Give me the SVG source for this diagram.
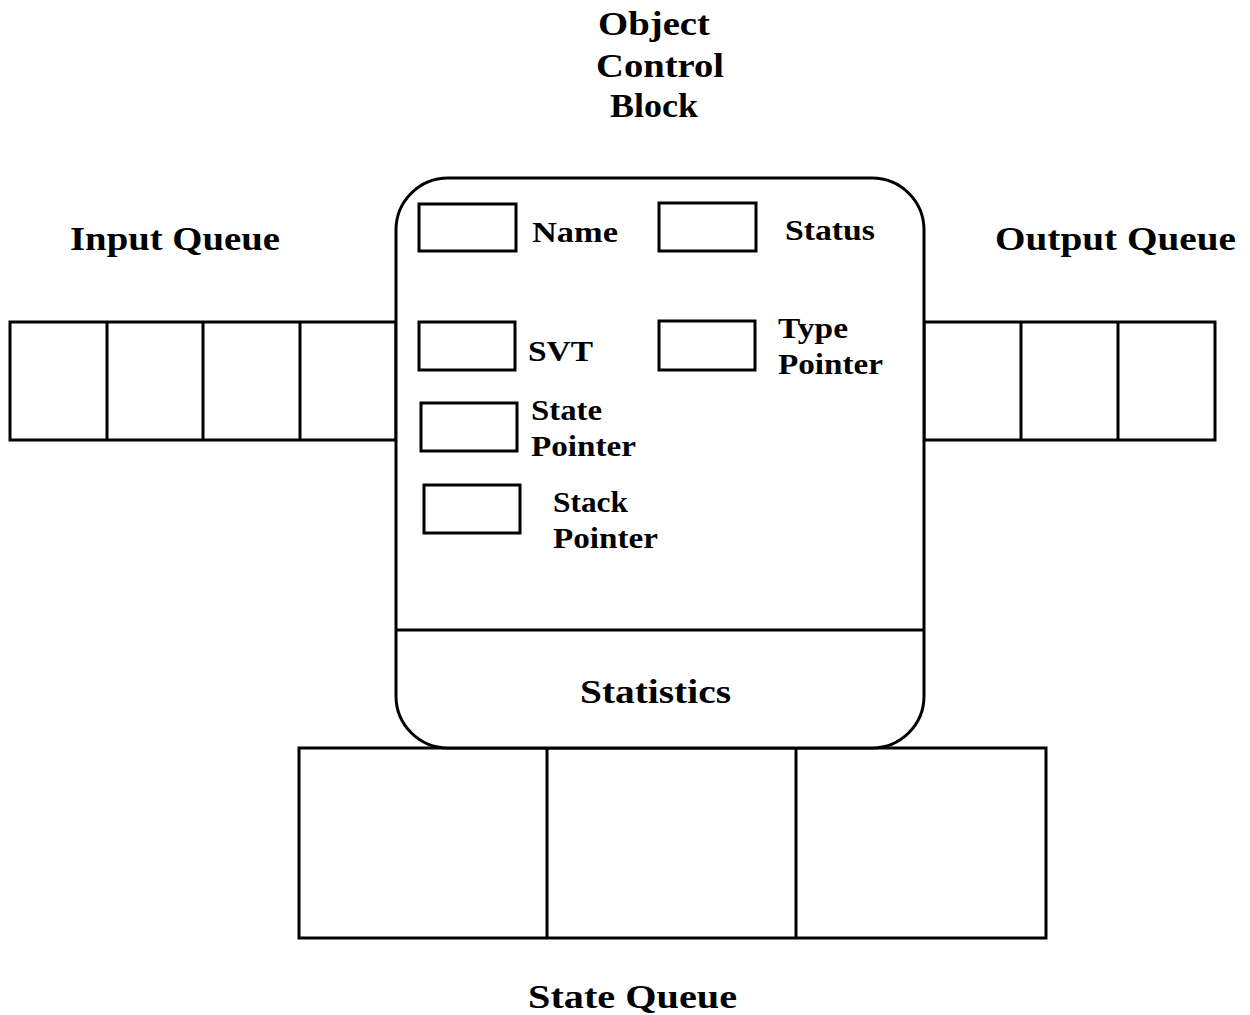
<svg xmlns="http://www.w3.org/2000/svg" width="1250" height="1015" viewBox="0 0 1250 1015">
<style>
.ln{fill:none;stroke:#000;stroke-width:3}
.bx{fill:#fff;stroke:#000;stroke-width:3}
text{font-family:"Liberation Serif","DejaVu Serif",serif;font-weight:bold;fill:#000}
.t{font-size:34px}
.s{font-size:30px}
</style>
<rect width="1250" height="1015" fill="#fff"/>
<g id="title">
<text class="t" x="654" y="35" text-anchor="middle" textLength="112" lengthAdjust="spacingAndGlyphs">Object</text>
<text class="t" x="660" y="77" text-anchor="middle" textLength="128" lengthAdjust="spacingAndGlyphs">Control</text>
<text class="t" x="654" y="117" text-anchor="middle" textLength="88" lengthAdjust="spacingAndGlyphs">Block</text>
</g>
<g id="input-queue">
<rect class="bx" x="10" y="322" width="386" height="118"/>
<line class="ln" x1="107" y1="322" x2="107" y2="440"/>
<line class="ln" x1="203" y1="322" x2="203" y2="440"/>
<line class="ln" x1="300" y1="322" x2="300" y2="440"/>
<text class="t" x="70" y="250" textLength="210" lengthAdjust="spacingAndGlyphs">Input Queue</text>
</g>
<g id="output-queue">
<rect class="bx" x="924" y="322" width="291" height="118"/>
<line class="ln" x1="1021" y1="322" x2="1021" y2="440"/>
<line class="ln" x1="1118" y1="322" x2="1118" y2="440"/>
<text class="t" x="995" y="250" textLength="241" lengthAdjust="spacingAndGlyphs">Output Queue</text>
</g>
<g id="state-queue">
<rect class="bx" x="299" y="748" width="747" height="190"/>
<line class="ln" x1="547" y1="748" x2="547" y2="938"/>
<line class="ln" x1="796" y1="748" x2="796" y2="938"/>
<text class="t" x="528" y="1008" textLength="209" lengthAdjust="spacingAndGlyphs">State Queue</text>
</g>
<g id="ocb">
<rect class="bx" x="396" y="178" width="528" height="570" rx="52" ry="52"/>
<line class="ln" x1="396" y1="630" x2="924" y2="630"/>
<text class="t" x="580" y="703" textLength="151" lengthAdjust="spacingAndGlyphs">Statistics</text>
</g>
<g id="name">
<rect class="bx" x="419" y="204" width="97" height="47"/>
<text class="s" x="532" y="242" textLength="86" lengthAdjust="spacingAndGlyphs">Name</text>
</g>
<g id="status">
<rect class="bx" x="659" y="203" width="97" height="48"/>
<text class="s" x="785" y="240" textLength="90" lengthAdjust="spacingAndGlyphs">Status</text>
</g>
<g id="svt">
<rect class="bx" x="419" y="322" width="96" height="48"/>
<text class="s" x="528" y="361" textLength="65" lengthAdjust="spacingAndGlyphs">SVT</text>
</g>
<g id="type-pointer">
<rect class="bx" x="659" y="321" width="96" height="49"/>
<text class="s" x="778" y="338" textLength="70" lengthAdjust="spacingAndGlyphs">Type</text>
<text class="s" x="778" y="374" textLength="105" lengthAdjust="spacingAndGlyphs">Pointer</text>
</g>
<g id="state-pointer">
<rect class="bx" x="421" y="403" width="96" height="48"/>
<text class="s" x="531" y="420" textLength="71" lengthAdjust="spacingAndGlyphs">State</text>
<text class="s" x="531" y="456" textLength="105" lengthAdjust="spacingAndGlyphs">Pointer</text>
</g>
<g id="stack-pointer">
<rect class="bx" x="424" y="485" width="96" height="48"/>
<text class="s" x="553" y="512" textLength="75" lengthAdjust="spacingAndGlyphs">Stack</text>
<text class="s" x="553" y="548" textLength="105" lengthAdjust="spacingAndGlyphs">Pointer</text>
</g>
<g id="connectors"></g>
</svg>
